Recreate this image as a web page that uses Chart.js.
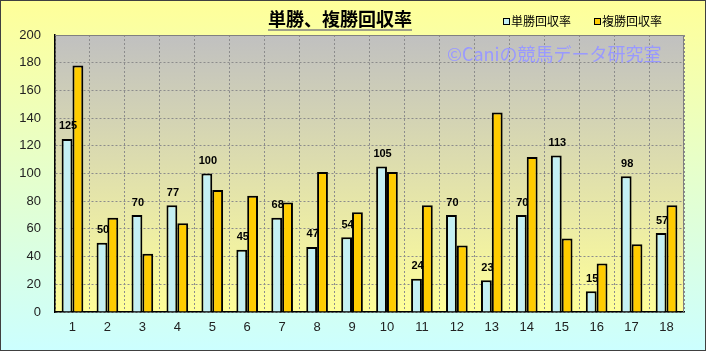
<!DOCTYPE html>
<html>
<head>
<meta charset="utf-8">
<script src="https://cdn.jsdelivr.net/npm/chart.js@4"></script>
<style>
	html, body { margin: 0; padding: 0; background: #fff; }
	#wrap { width: 706px; height: 351px; position: relative; }
</style>
</head>
<body>
<div id="wrap"><canvas id="bar-chart" width="706" height="351"></canvas></div>
<script>
var categories = ["1","2","3","4","5","6","7","8","9","10","11","12","13","14","15","16","17","18"];
var tanshoValues = [125, 50, 70, 77, 100, 45, 68, 47, 54, 105, 24, 70, 23, 70, 113, 15, 98, 57];
var fukushoValues = [178, 68, 42, 64, 88, 84, 79, 101, 72, 101, 77, 48, 144, 112, 53, 35, 49, 77];
var seriesNames = ["単勝回収率", "複勝回収率"];
var seriesColors = ["#C4F0F4", "#FFCC00"];
var yMin = 0, yMax = 200, yStep = 20;

var titleText = "単勝、複勝回収率";
var markText = "©Caniの競馬データ研究室";
var jpFont = "'Noto Sans CJK JP', sans-serif";
var numFont = "'Liberation Sans', Arial, sans-serif";

// backgrounds, frame, title, legend and watermark
var decoPlugin = {
	id: "deco",
	beforeDraw: function(chart) {
		var ctx = chart.ctx, w = chart.width, h = chart.height, a = chart.chartArea;
		ctx.save();
		var g = ctx.createLinearGradient(0, 0, 0, h);
		g.addColorStop(0, "#FFFF99");
		g.addColorStop(1, "#CCFFFF");
		ctx.fillStyle = g;
		ctx.fillRect(0, 0, w, h);

		var pg = ctx.createLinearGradient(0, a.top, 0, a.bottom);
		pg.addColorStop(0, "#C0C0C0");
		pg.addColorStop(1, "#FFFF99");
		ctx.fillStyle = pg;
		ctx.fillRect(a.left, a.top, a.right - a.left, a.bottom - a.top);

		ctx.strokeStyle = "#404040";
		ctx.lineWidth = 1;
		ctx.strokeRect(0.5, 0.5, w - 1, h - 1);
		ctx.restore();
	},
	afterDraw: function(chart) {
		var ctx = chart.ctx, a = chart.chartArea;
		ctx.save();
		// plot frame top / right
		ctx.strokeStyle = "#808080";
		ctx.lineWidth = 1;
		ctx.beginPath();
		ctx.moveTo(a.left, a.top + 0.5);
		ctx.lineTo(a.right - 0.5, a.top + 0.5);
		ctx.lineTo(a.right - 0.5, a.bottom);
		ctx.stroke();

		// title
		ctx.fillStyle = "#000";
		ctx.font = "bold 18px " + jpFont;
		ctx.textAlign = "center";
		ctx.textBaseline = "middle";
		var tw = ctx.measureText(titleText).width;
		ctx.fillText(titleText, 340, 19);
		ctx.lineWidth = 1.5;
		ctx.beginPath();
		ctx.moveTo(340 - tw / 2, 30);
		ctx.lineTo(340 + tw / 2, 30);
		ctx.stroke();

		// legend
		var lx = [503, 594];
		ctx.font = "12px " + jpFont;
		ctx.textAlign = "left";
		for (var i = 0; i < seriesNames.length; i++) {
			ctx.fillStyle = seriesColors[i];
			ctx.fillRect(lx[i], 18, 6, 6);
			ctx.strokeStyle = "#000";
			ctx.lineWidth = 1;
			ctx.strokeRect(lx[i] + 0.5, 18.5, 6, 6);
			ctx.fillStyle = "#000";
			ctx.fillText(seriesNames[i], lx[i] + 8, 21);
		}

		// watermark
		ctx.fillStyle = "#9999FF";
		ctx.font = "18px " + jpFont;
		ctx.textAlign = "left";
		ctx.fillText(markText, 447, 54);
		ctx.restore();
	},
	afterDatasetsDraw: function(chart) {
		var ctx = chart.ctx;
		var meta = chart.getDatasetMeta(0);
		ctx.save();
		ctx.fillStyle = "#000";
		ctx.font = "bold 11px " + numFont;
		ctx.textAlign = "center";
		ctx.textBaseline = "bottom";
		meta.data.forEach(function(bar, i) {
			ctx.fillText(tanshoValues[i], bar.x + 1, bar.y - 7);
		});
		ctx.restore();
	}
};

new Chart(document.getElementById("bar-chart"), {
	type: "bar",
	data: {
		labels: categories,
		datasets: [{
			label: seriesNames[0],
			data: tanshoValues,
			backgroundColor: seriesColors[0],
			borderColor: "#000",
			borderWidth: 2
		}, {
			label: seriesNames[1],
			data: fukushoValues,
			backgroundColor: seriesColors[1],
			borderColor: "#000",
			borderWidth: 2
		}]
	},
	options: {
		responsive: false,
		animation: false,
		layout: { padding: { top: 35, right: 22, left: 0, bottom: 0 } },
		datasets: { bar: { categoryPercentage: 0.62, barPercentage: 1.0 } },
		plugins: {
			legend: { display: false },
			title: { display: false },
			tooltip: { enabled: false }
		},
		scales: {
			x: {
				grid: { color: "#8C8C8C", offset: true, drawTicks: false, lineWidth: 1 },
				border: { color: "#000", width: 1.5, dash: [2, 2] },
				ticks: { color: "#222", font: { family: numFont, size: 13 }, padding: 8 },
				afterFit: function(s) { s.height = 39; }
			},
			y: {
				min: yMin,
				max: yMax,
				grid: { color: "#8C8C8C", drawTicks: false, lineWidth: 1 },
				border: { color: "#000", width: 1.5, dash: [2, 2] },
				ticks: { stepSize: yStep, color: "#222", font: { family: numFont, size: 13 }, padding: 14 },
				afterFit: function(s) { s.width = 55; }
			}
		}
	},
	plugins: [decoPlugin]
});
</script>
</body>
</html>
